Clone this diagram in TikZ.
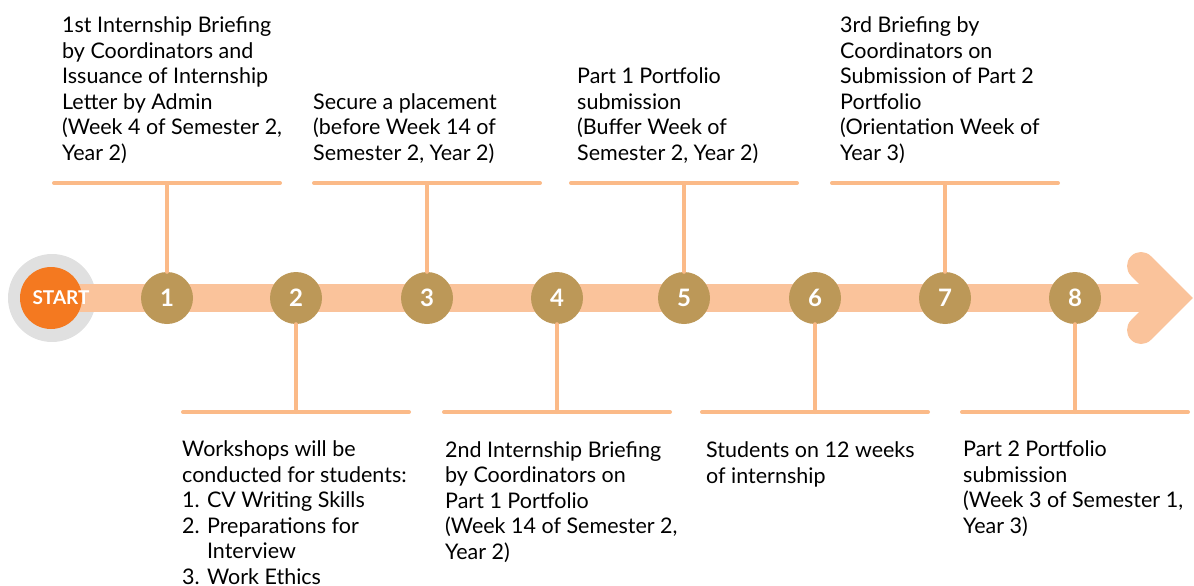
\documentclass[tikz,border=0pt]{standalone}
\usepackage{fontspec}
\setmainfont{Lato}
\usetikzlibrary{calc}
\definecolor{barpeach}{HTML}{FAC39B}
\definecolor{linepeach}{HTML}{FBBA88}
\definecolor{stepbrown}{HTML}{BC9858}
\definecolor{startorange}{HTML}{F47920}
\definecolor{ringgrey}{HTML}{E0E0E0}
\begin{document}
\begin{tikzpicture}[x=1pt,y=-1pt,
  numdot/.style={circle,fill=stepbrown,minimum size=52pt,inner sep=0pt,text=white,
    font=\fontsize{24}{24}\selectfont\bfseries},
  stem/.style={linepeach,line width=4pt,line cap=round},
  note/.style={align=left,inner sep=0pt,anchor=base west,font=\fontsize{21.5}{25.5}\selectfont}]

  \useasboundingbox (0,0) rectangle (1194,586);

  \fill[ringgrey] (52,298) circle (44);
  \draw[barpeach,line width=28pt] (52,298) -- (1173,298);
  \draw[barpeach,line width=28pt,line cap=round,line join=miter]
    (1141,266) -- (1173,298) -- (1141,330);
  \node[circle,fill=startorange,minimum size=62pt,inner sep=0pt] (start) at (51,298) {};
  \node[text=white,font=\fontsize{19}{19}\selectfont\bfseries,inner sep=0pt] (startlabel) at (61,298) {START};

  \foreach \i/\x in {1/167,2/296,3/427,4/557,5/684,6/815,7/945,8/1075}
  {
    \node[numdot] (n\i) at (\x,298) {\i};
    \pgfmathtruncatemacro\side{mod(\i,2)}
    \ifnum\side=1
      \coordinate (c\i) at (\x,183);
      \draw[stem] (n\i.north) -- (c\i);
    \else
      \coordinate (c\i) at (\x,412);
      \draw[stem] (n\i.south) -- (c\i);
    \fi
    \coordinate (l\i) at ($(c\i)+(-113,0)$);
    \coordinate (r\i) at ($(c\i)+(113,0)$);
    \draw[stem] (l\i) -- (r\i);
  }

  \node[note] (t1) at (62,160) {1st Internship Briefing\\by Coordinators and\\Issuance of Internship\\Letter by Admin\\(Week 4 of Semester 2,\\Year 2)};
  \node[note] (t3) at (313,160) {Secure a placement\\(before Week 14 of\\Semester 2, Year 2)};
  \node[note] (t5) at (577,160) {Part 1 Portfolio\\submission\\(Buffer Week of\\Semester 2, Year 2)};
  \node[note] (t7) at (840,160) {3rd Briefing by\\Coordinators on\\Submission of Part 2\\Portfolio\\(Orientation Week of\\Year 3)};
  \node[note] (t2) at (182,584) {Workshops will be\\conducted for students:\\1. CV Writing Skills\\2. Preparations for\\\phantom{2. }Interview\\3. Work Ethics};
  \node[note] (t4) at (445,559) {2nd Internship Briefing\\by Coordinators on\\Part 1 Portfolio\\(Week 14 of Semester 2,\\Year 2)};
  \node[note] (t6) at (706,483) {Students on 12 weeks\\of internship};
  \node[note] (t8) at (963,533) {Part 2 Portfolio\\submission\\(Week 3 of Semester 1,\\Year 3)};

\end{tikzpicture}
\end{document}
